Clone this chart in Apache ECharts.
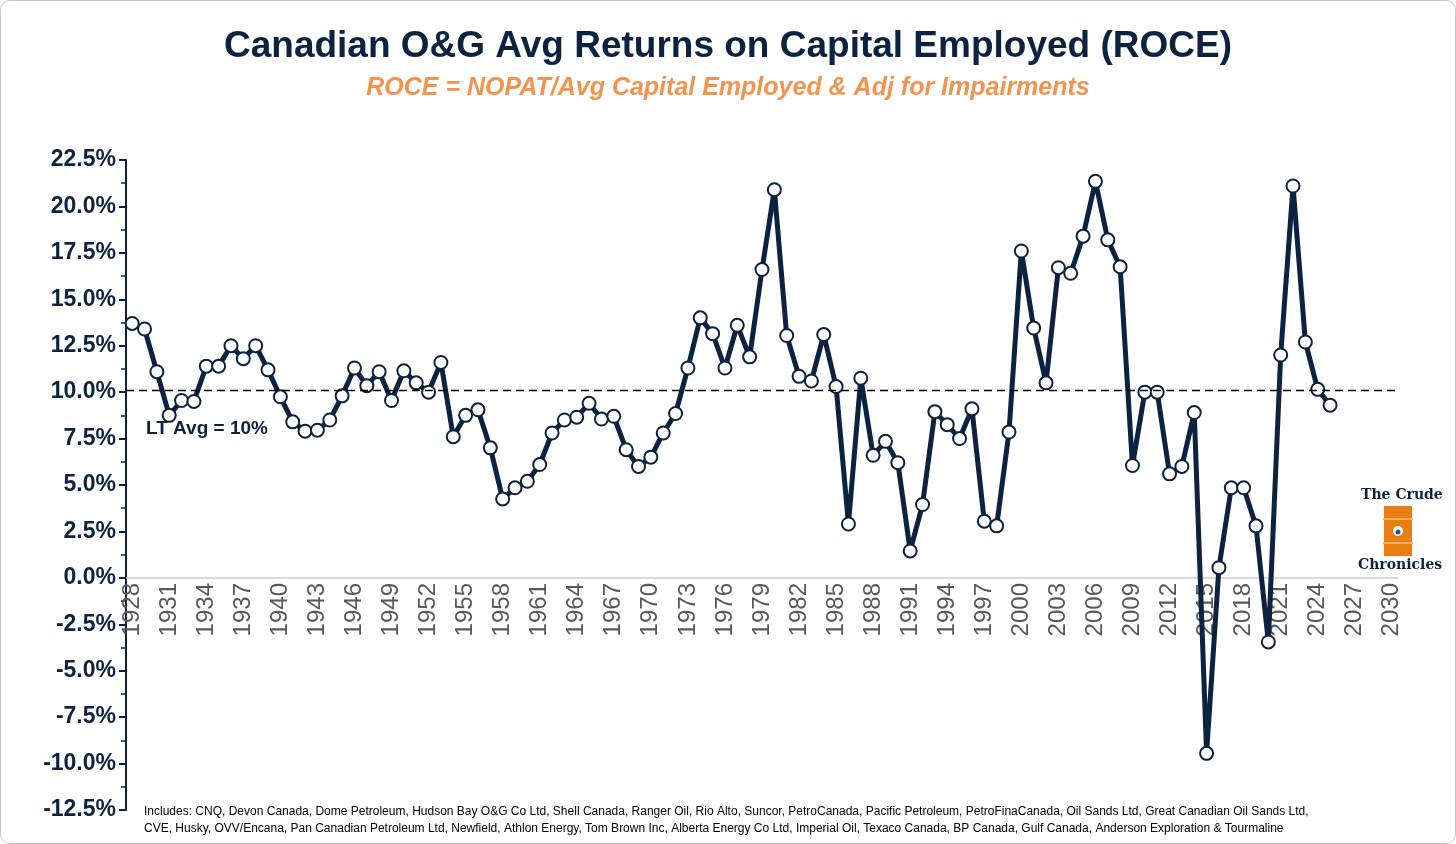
<!DOCTYPE html>
<html>
<head>
<meta charset="utf-8">
<script src="https://cdn.jsdelivr.net/npm/echarts@6/dist/echarts.min.js"></script>
<style>
  html, body { margin: 0; padding: 0; background: #fff; }
  #chart { width: 1456px; height: 844px; box-sizing: border-box; border: 1px solid #c8c8c8; border-radius: 10px; }
</style>
</head>
<body>
<div id="chart"></div>
<script>
// years on the axis run to 2030, data stops at 2025
var years = [];
for (var y = 1928; y <= 2030; y++) years.push(String(y));

var roce = [
  13.7, 13.4, 11.1, 8.75, 9.55, 9.5, 11.4, 11.4, 12.5, 11.8,   // 1928-37
  12.5, 11.2, 9.75, 8.4, 7.9, 7.95, 8.5, 9.8, 11.3, 10.35,     // 1938-47
  11.1, 9.55, 11.15, 10.5, 10.0, 11.6, 7.6, 8.75, 9.05, 7.0,   // 1948-57
  4.25, 4.85, 5.2, 6.1, 7.8, 8.5, 8.65, 9.4, 8.55, 8.7,        // 1958-67
  6.9, 6.0, 6.5, 7.8, 8.85, 11.3, 14.0, 13.15, 11.3, 13.6,     // 1968-77
  11.9, 16.6, 20.9, 13.05, 10.85, 10.6, 13.1, 10.3, 2.9, 10.75, // 1978-87
  6.6, 7.35, 6.2, 1.45, 3.95, 8.95, 8.25, 7.5, 9.1, 3.05,      // 1988-97
  2.8, 7.85, 17.6, 13.45, 10.5, 16.7, 16.4, 18.4, 21.35, 18.2, // 1998-2007
  16.75, 6.05, 10.0, 10.0, 5.6, 6.0, 8.9, -9.45, 0.55, 4.85,   // 2008-17
  4.85, 2.8, -3.45, 12.0, 21.1, 12.7, 10.15, 9.3               // 2018-25
];
var ltAvg = 10.1;

var yTicks = [-12.5, 22.5, 2.5];
var navy = '#0b2240';

var companies = [
  'Includes: CNQ, Devon Canada, Dome Petroleum, Hudson Bay O&G Co Ltd, Shell Canada, Ranger Oil, Rio Alto, Suncor, PetroCanada, Pacific Petroleum, PetroFinaCanada, Oil Sands Ltd, Great Canadian Oil Sands Ltd,',
  'CVE, Husky, OVV/Encana, Pan Canadian Petroleum Ltd, Newfield, Athlon Energy, Tom Brown Inc, Alberta Energy Co Ltd, Imperial Oil, Texaco Canada, BP Canada, Gulf Canada, Anderson Exploration & Tourmaline'
];

var chart = echarts.init(document.getElementById('chart'));
chart.setOption({
  animation: false,
  title: [{
    text: 'Canadian O&G Avg Returns on Capital Employed (ROCE)',
    left: 'center', top: 22,
    textStyle: { fontFamily: 'Arial, Liberation Sans', fontSize: 37, fontWeight: 'bold', color: navy }
  }, {
    text: 'ROCE = NOPAT/Avg Capital Employed & Adj for Impairments',
    left: 'center', top: 70,
    textStyle: { fontFamily: 'Arial, Liberation Sans', fontSize: 25, fontWeight: 'bold', fontStyle: 'italic', color: '#f4934e' }
  }],
  grid: { left: 125, right: 57, top: 159, bottom: 33, outerBoundsMode: 'none', containLabel: false },
  xAxis: {
    type: 'category',
    data: years,
    boundaryGap: true,
    position: 'bottom',
    offset: -232,
    axisLine: { onZero: false, lineStyle: { color: '#d0d0d0', width: 1.5 } },
    axisTick: { show: false },
    axisLabel: {
      interval: 2, rotate: 90, fontSize: 24, color: '#595959',
      fontFamily: 'Arial, Liberation Sans', margin: 5
    },
    splitLine: { show: false }
  },
  yAxis: {
    type: 'value',
    min: yTicks[0], max: yTicks[1], interval: yTicks[2],
    axisLine: { show: true, onZero: false, lineStyle: { color: navy, width: 2 } },
    axisTick: { show: true, length: 7, lineStyle: { color: navy, width: 2 } },
    minorTick: { show: true, splitNumber: 2, length: 5, lineStyle: { color: navy, width: 1.5 } },
    splitLine: { show: false },
    axisLabel: {
      fontSize: 23, fontWeight: 'bold', color: navy, fontFamily: 'Arial, Liberation Sans', margin: 10,
      formatter: function (v) { return v.toFixed(1) + '%'; }
    }
  },
  series: [{
    type: 'line',
    data: roce,
    symbol: 'circle',
    symbolSize: 13,
    showAllSymbol: true,
    lineStyle: { color: navy, width: 5 },
    itemStyle: { color: '#fff', borderColor: navy, borderWidth: 2 },
    markLine: {
      silent: true, symbol: 'none',
      label: { show: false },
      lineStyle: { color: '#000', type: [8, 5], width: 1.3 },
      data: [{ yAxis: ltAvg }]
    },
    z: 3
  }],
  graphic: [
    { type: 'text', left: 145, top: 418,
      style: { text: 'LT Avg = 10%', fontSize: 19, fontWeight: 'bold', fill: navy, fontFamily: 'Arial, Liberation Sans' } },
    { type: 'text', left: 1360, top: 487,
      style: { text: 'The Crude', fontSize: 14, fontWeight: 'bold', fill: navy, fontFamily: 'DejaVu Serif' } },
    { type: 'rect', shape: { x: 1383, y: 505, width: 28, height: 50 }, style: { fill: '#ea7d10' } },
    { type: 'rect', shape: { x: 1382, y: 517, width: 30, height: 2 }, style: { fill: '#f7b36b' } },
    { type: 'rect', shape: { x: 1382, y: 541, width: 30, height: 2 }, style: { fill: '#f7b36b' } },
    { type: 'circle', shape: { cx: 1397, cy: 530, r: 5 }, style: { fill: '#fff' } },
    { type: 'circle', shape: { cx: 1397, cy: 531, r: 2.5 }, style: { fill: '#1d5c8c' } },
    { type: 'text', left: 1357, top: 557,
      style: { text: 'Chronicles', fontSize: 14, fontWeight: 'bold', fill: navy, fontFamily: 'DejaVu Serif' } },
    { type: 'text', left: 143, top: 802,
      style: { text: companies.join('\n'), fontSize: 12, lineHeight: 17, fill: '#000', fontFamily: 'Arial, Liberation Sans' } }
  ]
});
</script>
</body>
</html>
